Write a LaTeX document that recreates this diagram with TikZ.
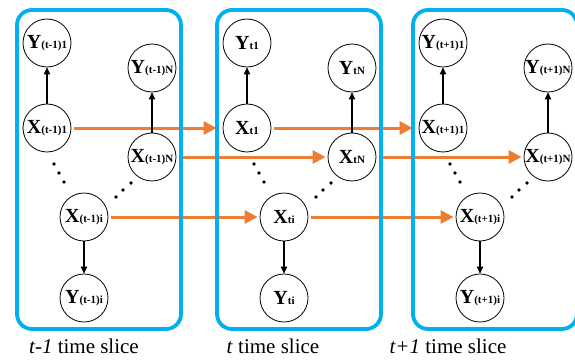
\documentclass[tikz,border=0pt]{standalone}
\usepackage{fontspec}
\setmainfont{Liberation Serif}
\usetikzlibrary{arrows.meta}
\definecolor{slicecol}{RGB}{0,176,240}
\definecolor{linkcol}{RGB}{237,125,49}
\newcommand{\varname}[2]{{\fontsize{20}{20}\selectfont\bfseries #1}\raisebox{-0.5pt}{\fontsize{11}{11}\selectfont\bfseries #2}}
\tikzset{
	every var/.style={
		circle,
		draw,
		line width=0.8pt,
		minimum size=48pt,
		inner sep=0pt
	},
	slice box/.style={
		draw=slicecol,
		line width=3.8pt,
		rounded corners=15pt
	},
	link/.style={
		draw=linkcol,
		line width=3pt,
		-{Triangle[length=13pt,width=13pt]}
	},
	emit/.style={
		line width=1.1pt,
		-{Triangle[length=7pt,width=6.5pt]}
	},
}

\begin{document}
\begin{tikzpicture}[x=1pt, y=-1pt]
\useasboundingbox (0,0) rectangle (575,361);

\foreach \s/\o/\sub in {1/0/(t-1), 2/200/t, 3/396/(t+1)} {
	\node [every var] (x1-\s) at (47+\o,128) {\varname{X}{\sub1}};
	\node [every var] (y1-\s) at (47+\o,43) {\varname{Y}{\sub1}};
	\node [every var] (xn-\s) at (152+\o,157) {\varname{X}{\sub N}};
	\node [every var] (yn-\s) at (152+\o,68) {\varname{Y}{\sub N}};
	\node [every var] (xi-\s) at (84+\o,217) {\varname{X}{\sub i}};
	\node [every var] (yi-\s) at (84+\o,298) {\varname{Y}{\sub i}};
}

\foreach \a/\b in {1/2, 2/3}
	\foreach \v/\g in {x1/6pt, xn/2pt, xi/2pt}
		\draw [link, shorten <=3pt, shorten >=\g] (\v-\a) -- (\v-\b);

\foreach \o in {0,200,396}
	\draw [slice box] (17+\o,10) rectangle (181+\o,329);

\foreach \s in {1,2,3} {
	\draw [emit] (x1-\s) -- (y1-\s);
	\draw [emit] (xn-\s) -- (yn-\s);
	\draw [emit] (xi-\s) -- (yi-\s);
}

% dots between the first, i-th and N-th variables
\foreach \o in {0,200,396}
	\foreach \px/\py in {54/164, 59/173, 64/182, 116/197, 123/190, 131/183}
		\fill (\px+\o,\py) circle (1.8pt);

\foreach \s/\c/\txt in {1/84/t-1, 2/273/t, 3/448/t+1}
	\node [anchor=base, font=\fontsize{21}{21}\selectfont] (lbl-\s) at (\c,353) {\textit{\txt} time slice};

\end{tikzpicture}
\end{document}
